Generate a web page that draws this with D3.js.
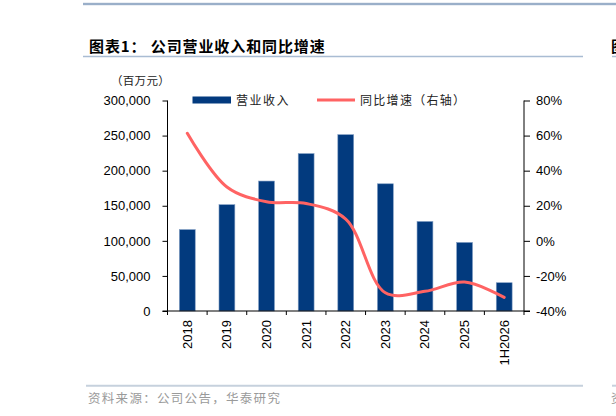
<!DOCTYPE html>
<html>
<head>
<meta charset="utf-8">
<script src="https://cdn.jsdelivr.net/npm/d3@7"></script>
<style>
  body { margin: 0; background: #fff; }
  svg { display: block; }
  .num { font-family: "Liberation Sans", Arial, sans-serif; font-size: 13px; fill: #000; }
  .cjk { font-family: "Noto Sans CJK SC", sans-serif; }
</style>
</head>
<body>
<div id="chart"></div>
<script>
//---------------- data ----------------//
var categories = ['2018', '2019', '2020', '2021', '2022', '2023', '2024', '2025', '1H2026'];
var revenue = [116000, 151500, 185200, 224300, 251300, 181300, 127600, 97700, 40300]; // 百万元
var growth = [61.3, 30.7, 22.3, 21.3, 12.4, -29.6, -28.8, -23.5, -32.2];            // %
var leftTicks = [0, 50000, 100000, 150000, 200000, 250000, 300000];
var rightTicks = [-40, -20, 0, 20, 40, 60, 80];
//--------------------------------------//

var width = 616, height = 416;
var plot = {left: 167.5, right: 524, top: 100.5, bottom: 311};

var svg = d3.select('#chart').append('svg')
            .attr('width', width)
            .attr('height', height);

//---------------- scales ----------------//
var x = d3.scaleBand()
          .domain(categories)
          .range([plot.left, plot.right])
          .paddingInner(0.6)
          .paddingOuter(0.3);

var yL = d3.scaleLinear().domain([0, 300000]).range([plot.bottom, plot.top]);
var yR = d3.scaleLinear().domain([-40, 80]).range([plot.bottom, plot.top]);

//---------------- page furniture ----------------//
svg.append('rect').attr('x', 83).attr('y', 2.8).attr('width', width - 83).attr('height', 2.4)
   .attr('fill', '#9aafc9');

svg.append('text').attr('class', 'cjk')
   .attr('x', 89).attr('y', 51.5)
   .style('font-size', '15px').style('font-weight', 'bold').style('letter-spacing', '0.9px')
   .text('图表1： 公司营业收入和同比增速');
svg.append('text').attr('class', 'cjk')
   .attr('x', 611).attr('y', 51.5)
   .style('font-size', '15px').style('font-weight', 'bold')
   .text('图');

svg.append('line').attr('x1', 83).attr('x2', 583).attr('y1', 56.5).attr('y2', 56.5)
   .attr('stroke', '#a9bcd3').attr('stroke-width', 1.5);
svg.append('line').attr('x1', 612).attr('x2', 616).attr('y1', 56.5).attr('y2', 56.5)
   .attr('stroke', '#a9bcd3').attr('stroke-width', 1.5);

svg.append('text').attr('class', 'cjk')
   .attr('x', 111).attr('y', 84.5)
   .style('font-size', '11.5px').style('letter-spacing', '0.3px').style('fill', '#222')
   .text('（百万元）');

svg.append('line').attr('x1', 86).attr('x2', 583).attr('y1', 385.7).attr('y2', 385.7)
   .attr('stroke', '#c6d1dd').attr('stroke-width', 2);
svg.append('line').attr('x1', 612).attr('x2', 616).attr('y1', 385.7).attr('y2', 385.7)
   .attr('stroke', '#c6d1dd').attr('stroke-width', 2);

svg.append('text').attr('class', 'cjk')
   .attr('x', 88).attr('y', 402.5)
   .style('font-size', '12.5px').style('letter-spacing', '1.3px').style('fill', '#9a9a9a')
   .text('资料来源：公司公告，华泰研究');
svg.append('text').attr('class', 'cjk')
   .attr('x', 611).attr('y', 402.5)
   .style('font-size', '12.5px').style('fill', '#9a9a9a')
   .text('资');

//---------------- bars ----------------//
svg.append('g').selectAll('rect')
   .data(categories)
   .enter().append('rect')
   .attr('x', function(d){ return x(d); })
   .attr('width', x.bandwidth())
   .attr('y', function(d, i){ return yL(revenue[i]); })
   .attr('height', function(d, i){ return yL(0) - yL(revenue[i]); })
   .attr('fill', '#023a7e')
   .attr('stroke', '#7f9cc2')
   .attr('stroke-width', 0.6);

//---------------- growth line ----------------//
var line = d3.line()
             .x(function(d, i){ return x(categories[i]) + x.bandwidth() / 2; })
             .y(function(d){ return yR(d); })
             .curve(d3.curveCatmullRom.alpha(0.5));

svg.append('path')
   .datum(growth)
   .attr('d', line)
   .attr('fill', 'none')
   .attr('stroke', '#ff6363')
   .attr('stroke-width', 3)
   .attr('stroke-linecap', 'round');

//---------------- axes ----------------//
var leftAxis = svg.append('g')
   .attr('transform', 'translate(' + plot.left + ',0)')
   .call(d3.axisLeft(yL).tickValues(leftTicks).tickFormat(d3.format(',')).tickSize(5).tickPadding(12));

var rightAxis = svg.append('g')
   .attr('transform', 'translate(' + plot.right + ',0)')
   .call(d3.axisRight(yR).tickValues(rightTicks).tickFormat(function(d){ return d + '%'; }).tickSize(6).tickPadding(6));

// category boundaries for the bottom ticks
var step = x.step();
var bounds = categories.map(function(c){ return x(c) - (step - x.bandwidth()) / 2; });
bounds.push(plot.right);

var bottom = svg.append('g').attr('transform', 'translate(0,' + plot.bottom + ')');
bottom.append('line').attr('x1', plot.left - 5).attr('x2', plot.right + 6)
      .attr('stroke', '#000');
bottom.selectAll('.btick').data(bounds).enter().append('line')
      .attr('x1', function(d){ return d; }).attr('x2', function(d){ return d; })
      .attr('y1', 0).attr('y2', 4)
      .attr('stroke', '#000');
bottom.selectAll('.blabel').data(categories).enter().append('text')
      .attr('class', 'num')
      .attr('text-anchor', 'end')
      .attr('transform', function(d){ return 'translate(' + (x(d) + x.bandwidth() / 2 + 4.5) + ',9) rotate(-90)'; })
      .text(function(d){ return d; });

[leftAxis, rightAxis].forEach(function(a){
  a.select('.domain').attr('stroke', '#000').attr('d', a === leftAxis
      ? 'M0,' + plot.top + 'V' + plot.bottom
      : 'M0,' + plot.top + 'V' + plot.bottom);
  a.selectAll('.tick line').attr('stroke', '#000');
  a.selectAll('.tick text').attr('class', 'num').attr('fill', '#000');
});

//---------------- legend ----------------//
var legend = svg.append('g');
legend.append('rect').attr('x', 192.5).attr('y', 96.5).attr('width', 38.5).attr('height', 7)
      .attr('fill', '#023a7e');
legend.append('text').attr('class', 'cjk')
      .attr('x', 236).attr('y', 104.5)
      .style('font-size', '12px').style('letter-spacing', '1.5px').style('fill', '#222')
      .text('营业收入');
legend.append('line').attr('x1', 317).attr('x2', 355).attr('y1', 100).attr('y2', 100)
      .attr('stroke', '#ff6363').attr('stroke-width', 3);
legend.append('text').attr('class', 'cjk')
      .attr('x', 360).attr('y', 104.5)
      .style('font-size', '12px').style('letter-spacing', '1.3px').style('fill', '#222')
      .text('同比增速（右轴）');
</script>
</body>
</html>
